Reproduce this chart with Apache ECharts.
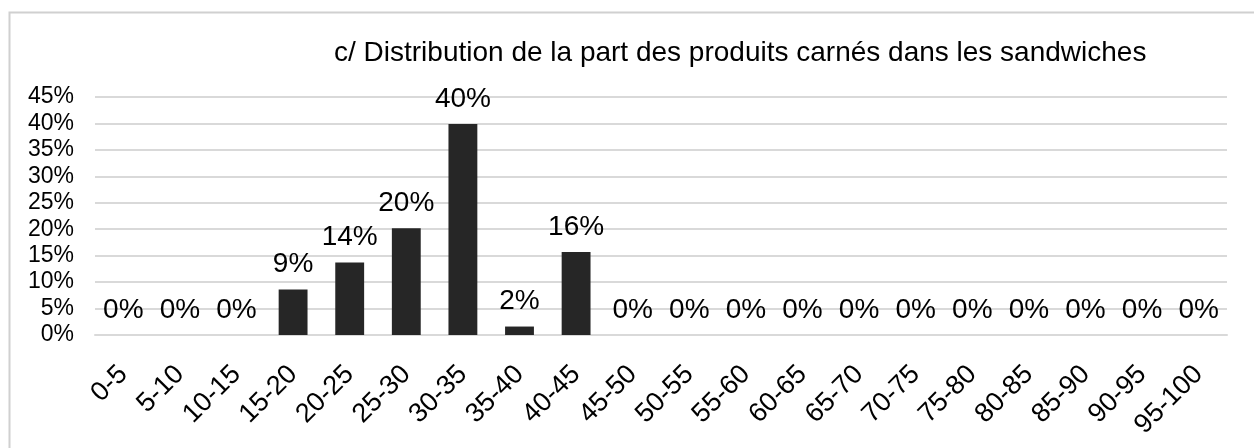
<!DOCTYPE html>
<html>
<head>
<meta charset="utf-8">
<script src="https://cdn.jsdelivr.net/npm/echarts@6/dist/echarts.min.js"></script>
<style>
html,body{margin:0;padding:0;background:#fff;}
#chart{width:1254px;height:448px;}
</style>
</head>
<body>
<div id="chart"></div>
<script>
const titleText = 'c/ Distribution de la part des produits carnés dans les sandwiches';
const categories = ['0-5','5-10','10-15','15-20','20-25','25-30','30-35','35-40','40-45','45-50','50-55','55-60','60-65','65-70','70-75','75-80','80-85','85-90','90-95','95-100'];
const shares = [0, 0, 0, 0.086, 0.137, 0.202, 0.399, 0.016, 0.157, 0, 0, 0, 0, 0, 0, 0, 0, 0, 0, 0];
const yMin = 0, yMax = 0.45, yStep = 0.05;

const FONT = '"Liberation Sans", Arial, sans-serif';
const chart = echarts.init(document.getElementById('chart'), null, {renderer: 'canvas'});
chart.setOption({
  animation: false,
  backgroundColor: '#fff',
  title: {
    text: titleText,
    left: 329,
    top: 34,
    textStyle: {fontFamily: FONT, fontSize: 28, fontWeight: 'normal', color: '#000'}
  },
  graphic: [{
    type: 'polyline',
    shape: {points: [[9.5, 448], [9.5, 12.5], [1254, 12.5]]},
    style: {stroke: '#d0d0d0', lineWidth: 2, fill: null},
    silent: true
  }],
  grid: {left: 95, right: 27, top: 97, bottom: 113, containLabel: false},
  xAxis: {
    type: 'category',
    data: categories,
    axisLine: {show: true, lineStyle: {color: '#d9d9d9', width: 2}},
    axisTick: {show: false},
    axisLabel: {rotate: 45, interval: 0, margin: 35, fontFamily: FONT, fontSize: 27, color: '#000'}
  },
  yAxis: {
    type: 'value',
    min: yMin, max: yMax, interval: yStep,
    axisLine: {show: false},
    axisTick: {show: false},
    splitLine: {lineStyle: {color: '#d9d9d9', width: 2}},
    axisLabel: {
      margin: 21, fontFamily: FONT, fontSize: 23, color: '#000',
      formatter: v => Math.round(v * 100) + '%'
    }
  },
  series: [{
    type: 'bar',
    data: shares,
    barWidth: '51%',
    itemStyle: {color: '#262626'},
    label: {
      show: true, position: 'top', distance: 11,
      fontFamily: FONT, fontSize: 28, color: '#000',
      formatter: p => Math.round(p.value * 100) + '%'
    }
  }]
});
</script>
</body>
</html>
